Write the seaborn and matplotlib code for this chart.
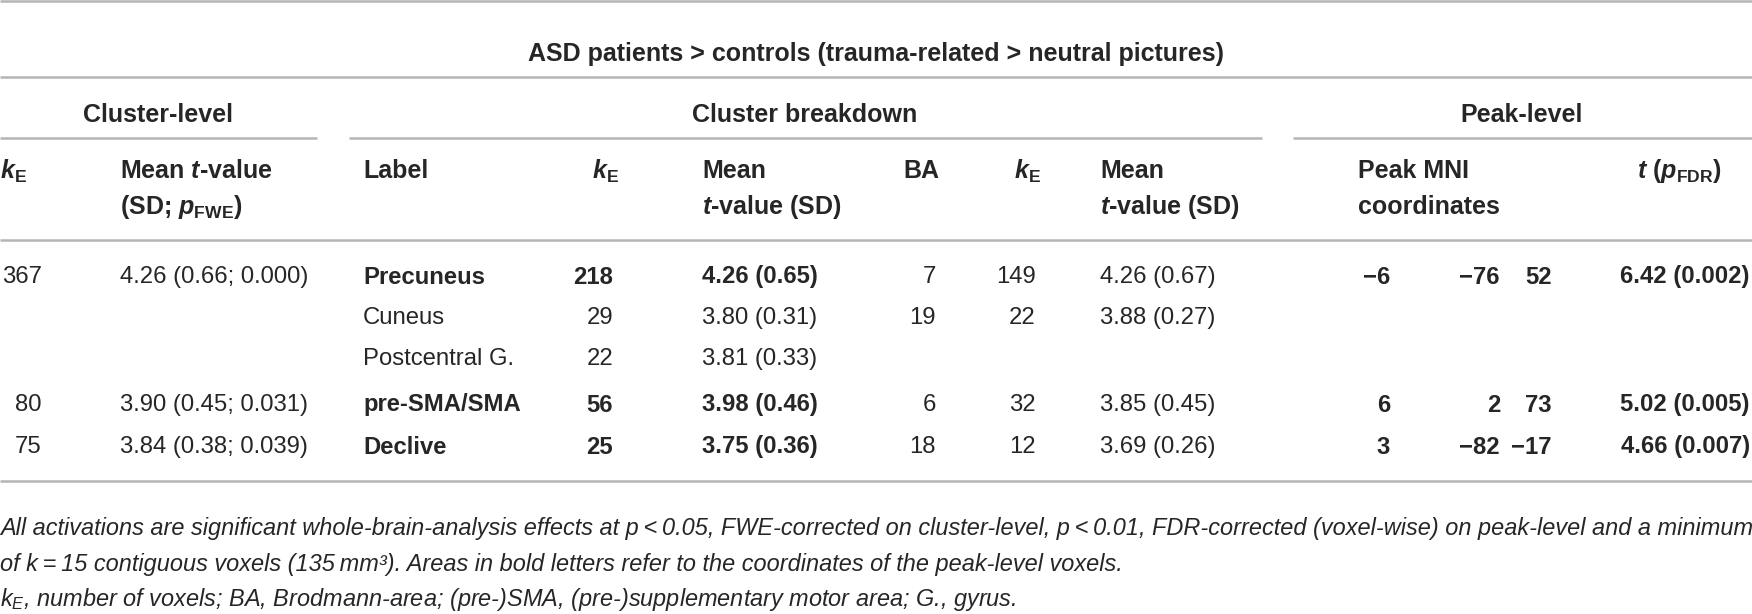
import numpy as np
import pandas as pd
import matplotlib
matplotlib.use("Agg")
import matplotlib.pyplot as plt
import seaborn as sns
from matplotlib import font_manager

# Table content
title = "ASD patients > controls (trauma-related > neutral pictures)"
groups = ["Cluster-level", "Cluster breakdown", "Peak-level"]

cluster_k = ["367", "", "", "80", "75"]
cluster_mean = ["4.26 (0.66; 0.000)", "", "", "3.90 (0.45; 0.031)", "3.84 (0.38; 0.039)"]
labels = ["Precuneus", "Cuneus", "Postcentral G.", "pre-SMA/SMA", "Declive"]
label_bold = [True, False, False, True, True]
breakdown_k = ["218", "29", "22", "56", "25"]
breakdown_mean = ["4.26 (0.65)", "3.80 (0.31)", "3.81 (0.33)", "3.98 (0.46)", "3.75 (0.36)"]
ba = ["7", "19", "", "6", "18"]
ba_k = ["149", "22", "", "32", "12"]
ba_mean = ["4.26 (0.67)", "3.88 (0.27)", "", "3.85 (0.45)", "3.69 (0.26)"]
peak_x = ["\u22126", "", "", "6", "3"]
peak_y = ["\u221276", "", "", "2", "\u221282"]
peak_z = ["52", "", "", "73", "\u221217"]
peak_t = ["6.42 (0.002)", "", "", "5.02 (0.005)", "4.66 (0.007)"]

notes = [
    "All activations are significant whole-brain-analysis effects at p\u2009<\u20090.05, FWE-corrected on cluster-level, "
    "p\u2009<\u20090.01, FDR-corrected (voxel-wise) on peak-level and a minimum",
    "of k\u2009=\u200915 contiguous voxels (135\u2009mm\u00b3). Areas in bold letters refer to the coordinates of the peak-level voxels.",
    "$k_{E}$, number of voxels; BA, Brodmann-area; (pre-)SMA, (pre-)supplementary motor area; G., gyrus.",
]

sns.set_theme(style="white")

installed = {f.name for f in font_manager.fontManager.ttflist}
if "Liberation Sans Narrow" in installed:
    family = "Liberation Sans Narrow"
    fs, hfs, nfs = 20.5, 21.5, 20.5
else:
    family = "Liberation Sans" if "Liberation Sans" in installed else "DejaVu Sans"
    fs, hfs, nfs = 17.2, 18.0, 16.9

plt.rcParams["font.family"] = [family, "DejaVu Sans"]
plt.rcParams["mathtext.fontset"] = "custom"
plt.rcParams["mathtext.rm"] = family
plt.rcParams["mathtext.it"] = family + ":italic"
plt.rcParams["mathtext.bf"] = family + ":bold"
plt.rcParams["mathtext.bfit"] = family + ":italic:bold"

fig = plt.figure(figsize=(17.52, 6.14), dpi=100)
ax = fig.add_axes([0, 0, 1, 1])
ax.set_xlim(0, 1752)
ax.set_ylim(614, 0)
ax.axis("off")

line_col = "#b5b5b5"

def hline(x0, x1, y):
    ax.plot([x0, x1], [y, y], color=line_col, lw=1.8, solid_capstyle="butt")

hline(0, 1752, 1)
hline(0, 1752, 77)
hline(0, 317, 138)
hline(349, 1262, 138)
hline(1293, 1752, 138)
hline(0, 1752, 240)
hline(0, 1752, 481)

ax.text(876, 54, title, ha="center", va="center", fontsize=hfs, fontweight="bold")
for g, xc in zip(groups, [158, 805, 1522]):
    ax.text(xc, 115, g, ha="center", va="center", fontsize=hfs, fontweight="bold")

hy1, hy2 = 171, 207
kE = r"$\mathbfit{k}_{\mathbf{E}}$"
def head(x, y, s, ha="left"):
    ax.text(x, y, s, ha=ha, va="center", fontsize=hfs, fontweight="bold")

head(0, hy1, kE)
head(120, hy1, r"Mean $\mathbfit{t}$-value")
head(120, hy2, r"(SD; $\mathbfit{p}_{\mathbf{FWE}}$)")
head(363, hy1, "Label")
head(592, hy1, kE)
head(702, hy1, "Mean")
head(702, hy2, r"$\mathbfit{t}$-value (SD)")
head(903, hy1, "BA")
head(1014, hy1, kE)
head(1100, hy1, "Mean")
head(1100, hy2, r"$\mathbfit{t}$-value (SD)")
head(1358, hy1, "Peak MNI")
head(1358, hy2, "coordinates")
head(1722, hy1, r"$\mathbfit{t}$ ($\mathbfit{p}_{\mathbf{FDR}}$)", ha="right")

row_y = [277, 318, 359, 405, 447]
for i, y in enumerate(row_y):
    bw = "bold" if label_bold[i] else "normal"
    def cell(x, s, ha="left", w="normal"):
        if s:
            ax.text(x, y, s, ha=ha, va="center", fontsize=fs, fontweight=w)
    cell(42, cluster_k[i], "right")
    cell(120, cluster_mean[i])
    cell(363, labels[i], w=bw)
    cell(613, breakdown_k[i], "right", bw)
    cell(702, breakdown_mean[i], w=bw)
    cell(936, ba[i], "right")
    cell(1036, ba_k[i], "right")
    cell(1100, ba_mean[i])
    cell(1390, peak_x[i], "right", "bold")
    cell(1500, peak_y[i], "right", "bold")
    cell(1552, peak_z[i], "right", "bold")
    cell(1750, peak_t[i], "right", "bold")

for s, y in zip(notes, [535, 571, 606]):
    ax.text(0, y, s, ha="left", va="baseline", fontsize=nfs, fontstyle="italic")

fig.savefig("out.png", dpi=100, facecolor="white")
